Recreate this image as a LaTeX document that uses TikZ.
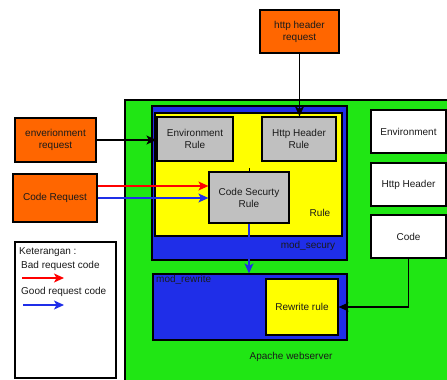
\documentclass[tikz,border=0pt]{standalone}
\usepackage{fontspec}
\setmainfont{Liberation Sans}
\usetikzlibrary{arrows.meta}
\definecolor{org}{HTML}{FF6600}
\definecolor{grn}{HTML}{20E614}
\definecolor{blu}{HTML}{1F2EE8}
\definecolor{yel}{HTML}{FFFF00}
\definecolor{gry}{HTML}{C0C0C0}
\definecolor{txt}{HTML}{1A1A1A}
\tikzset{
  every node/.style={font=\fontsize{10}{12}\selectfont, text=txt},
  bx/.style={draw=black, line width=1.2pt, align=center, inner sep=0pt},
  req/.style={bx, fill=org},
  rulebox/.style={bx, fill=gry},
  wbox/.style={bx, fill=white},
  area/.style={draw=black, line width=1.2pt, inner sep=0pt},
  lbl/.style={inner sep=0pt},
  arr/.style={line width=1.2pt, -{Stealth[length=10pt,width=9pt,inset=2.5pt]}},
}
\begin{document}
\begin{tikzpicture}[x=1pt,y=-1pt]
\useasboundingbox (0,0) rectangle (447,380);
\fill[white] (0,0) rectangle (447,380);
\clip (0,0) rectangle (447,380);
% green apache area
\node[area, fill=grn, minimum width=345pt, minimum height=300pt] (apache) at (297.5,250) {};
% mod_security
\node[area, fill=blu, minimum width=195pt, minimum height=154pt] (modsec) at (249.5,183) {};
\node[area, fill=yel, minimum width=187pt, minimum height=123pt] (rulearea) at (248.5,174.5) {};
% mod_rewrite
\node[area, fill=blu, minimum width=194pt, minimum height=66pt] (modrw) at (250,307) {};

\node[req, minimum width=79pt, minimum height=43pt] (hhr) at (299.5,31.5) {http header\\request};
\node[req, minimum width=81pt, minimum height=44pt] (envreq) at (55.5,140) {enverionment\\request};
\node[req, minimum width=84pt, minimum height=48pt] (codereq) at (55,198) {Code Request};

\node[rulebox, minimum width=76pt, minimum height=44pt] (envrule) at (195,139) {Environment\\Rule};
\node[rulebox, minimum width=74pt, minimum height=44pt] (hhrule) at (299,139) {Http Header\\Rule};
\node[rulebox, minimum width=80pt, minimum height=51pt] (coderule) at (249,197.5) {Code Securty\\Rule};
\node[bx, fill=yel, minimum width=72pt, minimum height=56pt] (rwrule) at (302,307) {Rewrite rule};

\node[wbox, minimum width=75pt, minimum height=43pt] (envw) at (408.5,131.5) {Environment};
\node[wbox, minimum width=75pt, minimum height=43pt] (httpw) at (408.5,184.5) {Http Header};
\node[wbox, minimum width=75pt, minimum height=43pt] (codew) at (408.5,236.5) {Code};

\node[lbl] (rulelbl) at (320,213) {Rule};
\node[lbl] (mseclbl) at (308,246) {mod\_secury};
\node[lbl, anchor=west] (mrwlbl) at (156,280) {mod\_rewrite};
\node[lbl] (apachelbl) at (291,357) {Apache webserver};

% legend
\node[bx, minimum width=101pt, minimum height=136pt] (legend) at (65.5,310) {};
\node[lbl, anchor=west] (ket) at (19,252) {Keterangan :};
\node[lbl, anchor=west] (bad) at (21,266) {Bad request code};
\node[lbl, anchor=west] (good) at (21,292) {Good request code};
\coordinate (ra) at (22,278);
\coordinate (rb) at (64,278);
\coordinate (ba) at (23,305);
\coordinate (bb) at (64,305);
\draw[arr, red] (ra) -- (rb);
\draw[arr, blu] (ba) -- (bb);

% connectors
\draw[arr, black] (hhr.south) -- (hhr.south |- hhrule.north);
\draw[arr, black] (envreq.east) -- (envreq.east -| envrule.west);
\draw[arr, red] ([yshift=12pt]codereq.east) -- ([yshift=12pt]codereq.east -| coderule.west);
\draw[arr, blu] (codereq.east) -- (codereq.east -| coderule.west);
\draw[arr, blu] (coderule.south) -- (coderule.south |- modrw.north);
\draw[arr, black] (codew.south) |- (rwrule.east);
\draw[line width=0.6pt] (coderule.north) -- ++(0,-3);
\end{tikzpicture}
\end{document}
